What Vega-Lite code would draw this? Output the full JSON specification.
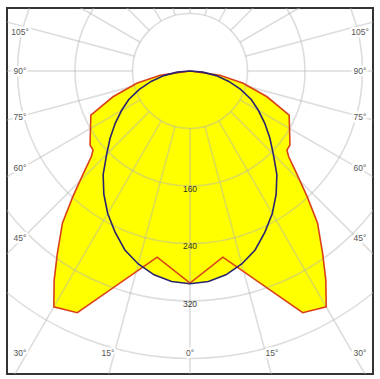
{
  "$schema": "https://vega.github.io/schema/vega-lite/v6.json",
  "width": 366,
  "height": 366,
  "autosize": {"type": "none"},
  "padding": {"left": 7, "top": 8, "right": 7, "bottom": 5},
  "background": "white",
  "config": {"view": {"stroke": "#333333", "strokeWidth": 2}},
  "datasets": {
    "curves": [
      {"plane": "C0-C180", "a": -90, "cd": 0},
      {"plane": "C0-C180", "a": -82, "cd": 42},
      {"plane": "C0-C180", "a": -77, "cd": 76},
      {"plane": "C0-C180", "a": -71.5, "cd": 113},
      {"plane": "C0-C180", "a": -66, "cd": 151},
      {"plane": "C0-C180", "a": -53.5, "cd": 173},
      {"plane": "C0-C180", "a": -50.8, "cd": 174},
      {"plane": "C0-C180", "a": -49, "cd": 182},
      {"plane": "C0-C180", "a": -46, "cd": 207},
      {"plane": "C0-C180", "a": -43, "cd": 239},
      {"plane": "C0-C180", "a": -40, "cd": 276},
      {"plane": "C0-C180", "a": -36, "cd": 314},
      {"plane": "C0-C180", "a": -33, "cd": 347},
      {"plane": "C0-C180", "a": -30, "cd": 379},
      {"plane": "C0-C180", "a": -25, "cd": 371},
      {"plane": "C0-C180", "a": -10, "cd": 263},
      {"plane": "C0-C180", "a": 0, "cd": 295},
      {"plane": "C0-C180", "a": 10, "cd": 263},
      {"plane": "C0-C180", "a": 25, "cd": 371},
      {"plane": "C0-C180", "a": 30, "cd": 379},
      {"plane": "C0-C180", "a": 33, "cd": 347},
      {"plane": "C0-C180", "a": 36, "cd": 314},
      {"plane": "C0-C180", "a": 40, "cd": 276},
      {"plane": "C0-C180", "a": 43, "cd": 239},
      {"plane": "C0-C180", "a": 46, "cd": 207},
      {"plane": "C0-C180", "a": 49, "cd": 182},
      {"plane": "C0-C180", "a": 50.8, "cd": 174},
      {"plane": "C0-C180", "a": 53.5, "cd": 173},
      {"plane": "C0-C180", "a": 66, "cd": 151},
      {"plane": "C0-C180", "a": 71.5, "cd": 113},
      {"plane": "C0-C180", "a": 77, "cd": 76},
      {"plane": "C0-C180", "a": 82, "cd": 42},
      {"plane": "C0-C180", "a": 90, "cd": 0},
      {"plane": "C90-C270", "a": -90, "cd": 0},
      {"plane": "C90-C270", "a": -85, "cd": 18},
      {"plane": "C90-C270", "a": -80, "cd": 37},
      {"plane": "C90-C270", "a": -75, "cd": 56},
      {"plane": "C90-C270", "a": -70, "cd": 75},
      {"plane": "C90-C270", "a": -65, "cd": 94},
      {"plane": "C90-C270", "a": -60, "cd": 110},
      {"plane": "C90-C270", "a": -55, "cd": 127},
      {"plane": "C90-C270", "a": -50, "cd": 145},
      {"plane": "C90-C270", "a": -45, "cd": 164},
      {"plane": "C90-C270", "a": -40, "cd": 188},
      {"plane": "C90-C270", "a": -35, "cd": 209},
      {"plane": "C90-C270", "a": -30, "cd": 229},
      {"plane": "C90-C270", "a": -25, "cd": 247},
      {"plane": "C90-C270", "a": -20, "cd": 265},
      {"plane": "C90-C270", "a": -15, "cd": 278},
      {"plane": "C90-C270", "a": -10, "cd": 288},
      {"plane": "C90-C270", "a": -5, "cd": 294},
      {"plane": "C90-C270", "a": 0, "cd": 296},
      {"plane": "C90-C270", "a": 5, "cd": 294},
      {"plane": "C90-C270", "a": 10, "cd": 288},
      {"plane": "C90-C270", "a": 15, "cd": 278},
      {"plane": "C90-C270", "a": 20, "cd": 265},
      {"plane": "C90-C270", "a": 25, "cd": 247},
      {"plane": "C90-C270", "a": 30, "cd": 229},
      {"plane": "C90-C270", "a": 35, "cd": 209},
      {"plane": "C90-C270", "a": 40, "cd": 188},
      {"plane": "C90-C270", "a": 45, "cd": 164},
      {"plane": "C90-C270", "a": 50, "cd": 145},
      {"plane": "C90-C270", "a": 55, "cd": 127},
      {"plane": "C90-C270", "a": 60, "cd": 110},
      {"plane": "C90-C270", "a": 65, "cd": 94},
      {"plane": "C90-C270", "a": 70, "cd": 75},
      {"plane": "C90-C270", "a": 75, "cd": 56},
      {"plane": "C90-C270", "a": 80, "cd": 37},
      {"plane": "C90-C270", "a": 85, "cd": 18},
      {"plane": "C90-C270", "a": 90, "cd": 0}
    ],
    "rings": [{"r": 80}, {"r": 160}, {"r": 240}, {"r": 320}, {"r": 400}],
    "spokes": [
      {"a": -180}, {"a": -165}, {"a": -150}, {"a": -135}, {"a": -120}, {"a": -105},
      {"a": -90}, {"a": -75}, {"a": -60}, {"a": -45}, {"a": -30}, {"a": -15},
      {"a": 0}, {"a": 15}, {"a": 30}, {"a": 45}, {"a": 60}, {"a": 75},
      {"a": 90}, {"a": 105}, {"a": 120}, {"a": 135}, {"a": 150}, {"a": 165}
    ],
    "anglabels": [
      {"t": "105°", "x": -236.5, "y": 54.3},
      {"t": "90°", "x": -236.5, "y": 0},
      {"t": "75°", "x": -236.5, "y": -64},
      {"t": "60°", "x": -236.5, "y": -134.3},
      {"t": "45°", "x": -236.5, "y": -232.3},
      {"t": "30°", "x": -236.5, "y": -392.3},
      {"t": "15°", "x": -114.1, "y": -392.3},
      {"t": "0°", "x": 0, "y": -392.3},
      {"t": "15°", "x": 114.1, "y": -392.3},
      {"t": "30°", "x": 236.5, "y": -392.3},
      {"t": "45°", "x": 236.5, "y": -232.3},
      {"t": "60°", "x": 236.5, "y": -134.3},
      {"t": "75°", "x": 236.5, "y": -64},
      {"t": "90°", "x": 236.5, "y": 0},
      {"t": "105°", "x": 236.5, "y": 54.3}
    ],
    "radlabels": [{"t": "160", "v": 160}, {"t": "240", "v": 240}, {"t": "320", "v": 320}]
  },
  "layer": [
    {
      "data": {"name": "curves"},
      "transform": [
        {"calculate": "datum.cd * sin(datum.a * PI / 180)", "as": "px"},
        {"calculate": "-datum.cd * cos(datum.a * PI / 180)", "as": "py"}
      ],
      "mark": {"type": "line", "filled": true, "fill": "#ffff00", "strokeWidth": 0, "stroke": null, "clip": true},
      "encoding": {
        "x": {"field": "px", "type": "quantitative", "axis": null, "scale": {"domain": [-254.6, 254.6], "nice": false, "zero": false}},
        "y": {"field": "py", "type": "quantitative", "axis": null, "scale": {"domain": [-421.6, 87.65], "nice": false, "zero": false}},
        "detail": {"field": "plane"},
        "order": {"field": "a", "type": "quantitative"}
      }
    },
    {
      "data": {"name": "rings"},
      "mark": {"type": "arc", "filled": false, "stroke": "#b4b4b4", "strokeOpacity": 0.45, "strokeWidth": 1.6, "theta": 0, "theta2": 6.2832, "clip": true},
      "encoding": {
        "x": {"datum": 0, "type": "quantitative", "axis": null},
        "y": {"datum": 0, "type": "quantitative", "axis": null},
        "radius": {"field": "r", "type": "quantitative", "scale": {"type": "linear", "domain": [0, 400], "range": [0, 287.5], "zero": true, "nice": false}},
        "radius2": {"field": "r"}
      }
    },
    {
      "data": {"name": "spokes"},
      "transform": [
        {"calculate": "80 * sin(datum.a * PI / 180)", "as": "x1"},
        {"calculate": "-80 * cos(datum.a * PI / 180)", "as": "y1"},
        {"calculate": "700 * sin(datum.a * PI / 180)", "as": "x2"},
        {"calculate": "-700 * cos(datum.a * PI / 180)", "as": "y2"}
      ],
      "mark": {"type": "rule", "stroke": "#b4b4b4", "strokeOpacity": 0.45, "strokeWidth": 1.6, "clip": true},
      "encoding": {
        "x": {"field": "x1", "type": "quantitative", "axis": null},
        "y": {"field": "y1", "type": "quantitative", "axis": null},
        "x2": {"field": "x2"},
        "y2": {"field": "y2"}
      }
    },
    {
      "data": {"name": "curves"},
      "transform": [
        {"calculate": "datum.cd * sin(datum.a * PI / 180)", "as": "px"},
        {"calculate": "-datum.cd * cos(datum.a * PI / 180)", "as": "py"}
      ],
      "mark": {"type": "line", "strokeWidth": 1.6, "clip": true},
      "encoding": {
        "x": {"field": "px", "type": "quantitative", "axis": null},
        "y": {"field": "py", "type": "quantitative", "axis": null},
        "color": {"field": "plane", "type": "nominal", "legend": null, "scale": {"domain": ["C0-C180", "C90-C270"], "range": ["#d8401a", "#2a2470"]}},
        "order": {"field": "a", "type": "quantitative"}
      }
    },
    {
      "data": {"name": "anglabels"},
      "mark": {"type": "text", "font": "Liberation Sans", "fontSize": 8.5, "fill": "white", "stroke": "white", "strokeWidth": 5, "strokeJoin": "round", "align": "center", "baseline": "middle"},
      "encoding": {
        "x": {"field": "x", "type": "quantitative", "axis": null},
        "y": {"field": "y", "type": "quantitative", "axis": null},
        "text": {"field": "t"}
      }
    },
    {
      "data": {"name": "anglabels"},
      "mark": {"type": "text", "font": "Liberation Sans", "fontSize": 8.5, "fill": "#555555", "align": "center", "baseline": "middle"},
      "encoding": {
        "x": {"field": "x", "type": "quantitative", "axis": null},
        "y": {"field": "y", "type": "quantitative", "axis": null},
        "text": {"field": "t"}
      }
    },
    {
      "data": {"name": "radlabels"},
      "transform": [{"calculate": "-datum.v", "as": "y"}, {"calculate": "0", "as": "x"}],
      "mark": {"type": "text", "font": "Liberation Sans", "fontSize": 8.5, "fill": "#333333", "align": "center", "baseline": "middle", "dy": 3},
      "encoding": {
        "x": {"field": "x", "type": "quantitative", "axis": null},
        "y": {"field": "y", "type": "quantitative", "axis": null},
        "text": {"field": "t"}
      }
    }
  ]
}
